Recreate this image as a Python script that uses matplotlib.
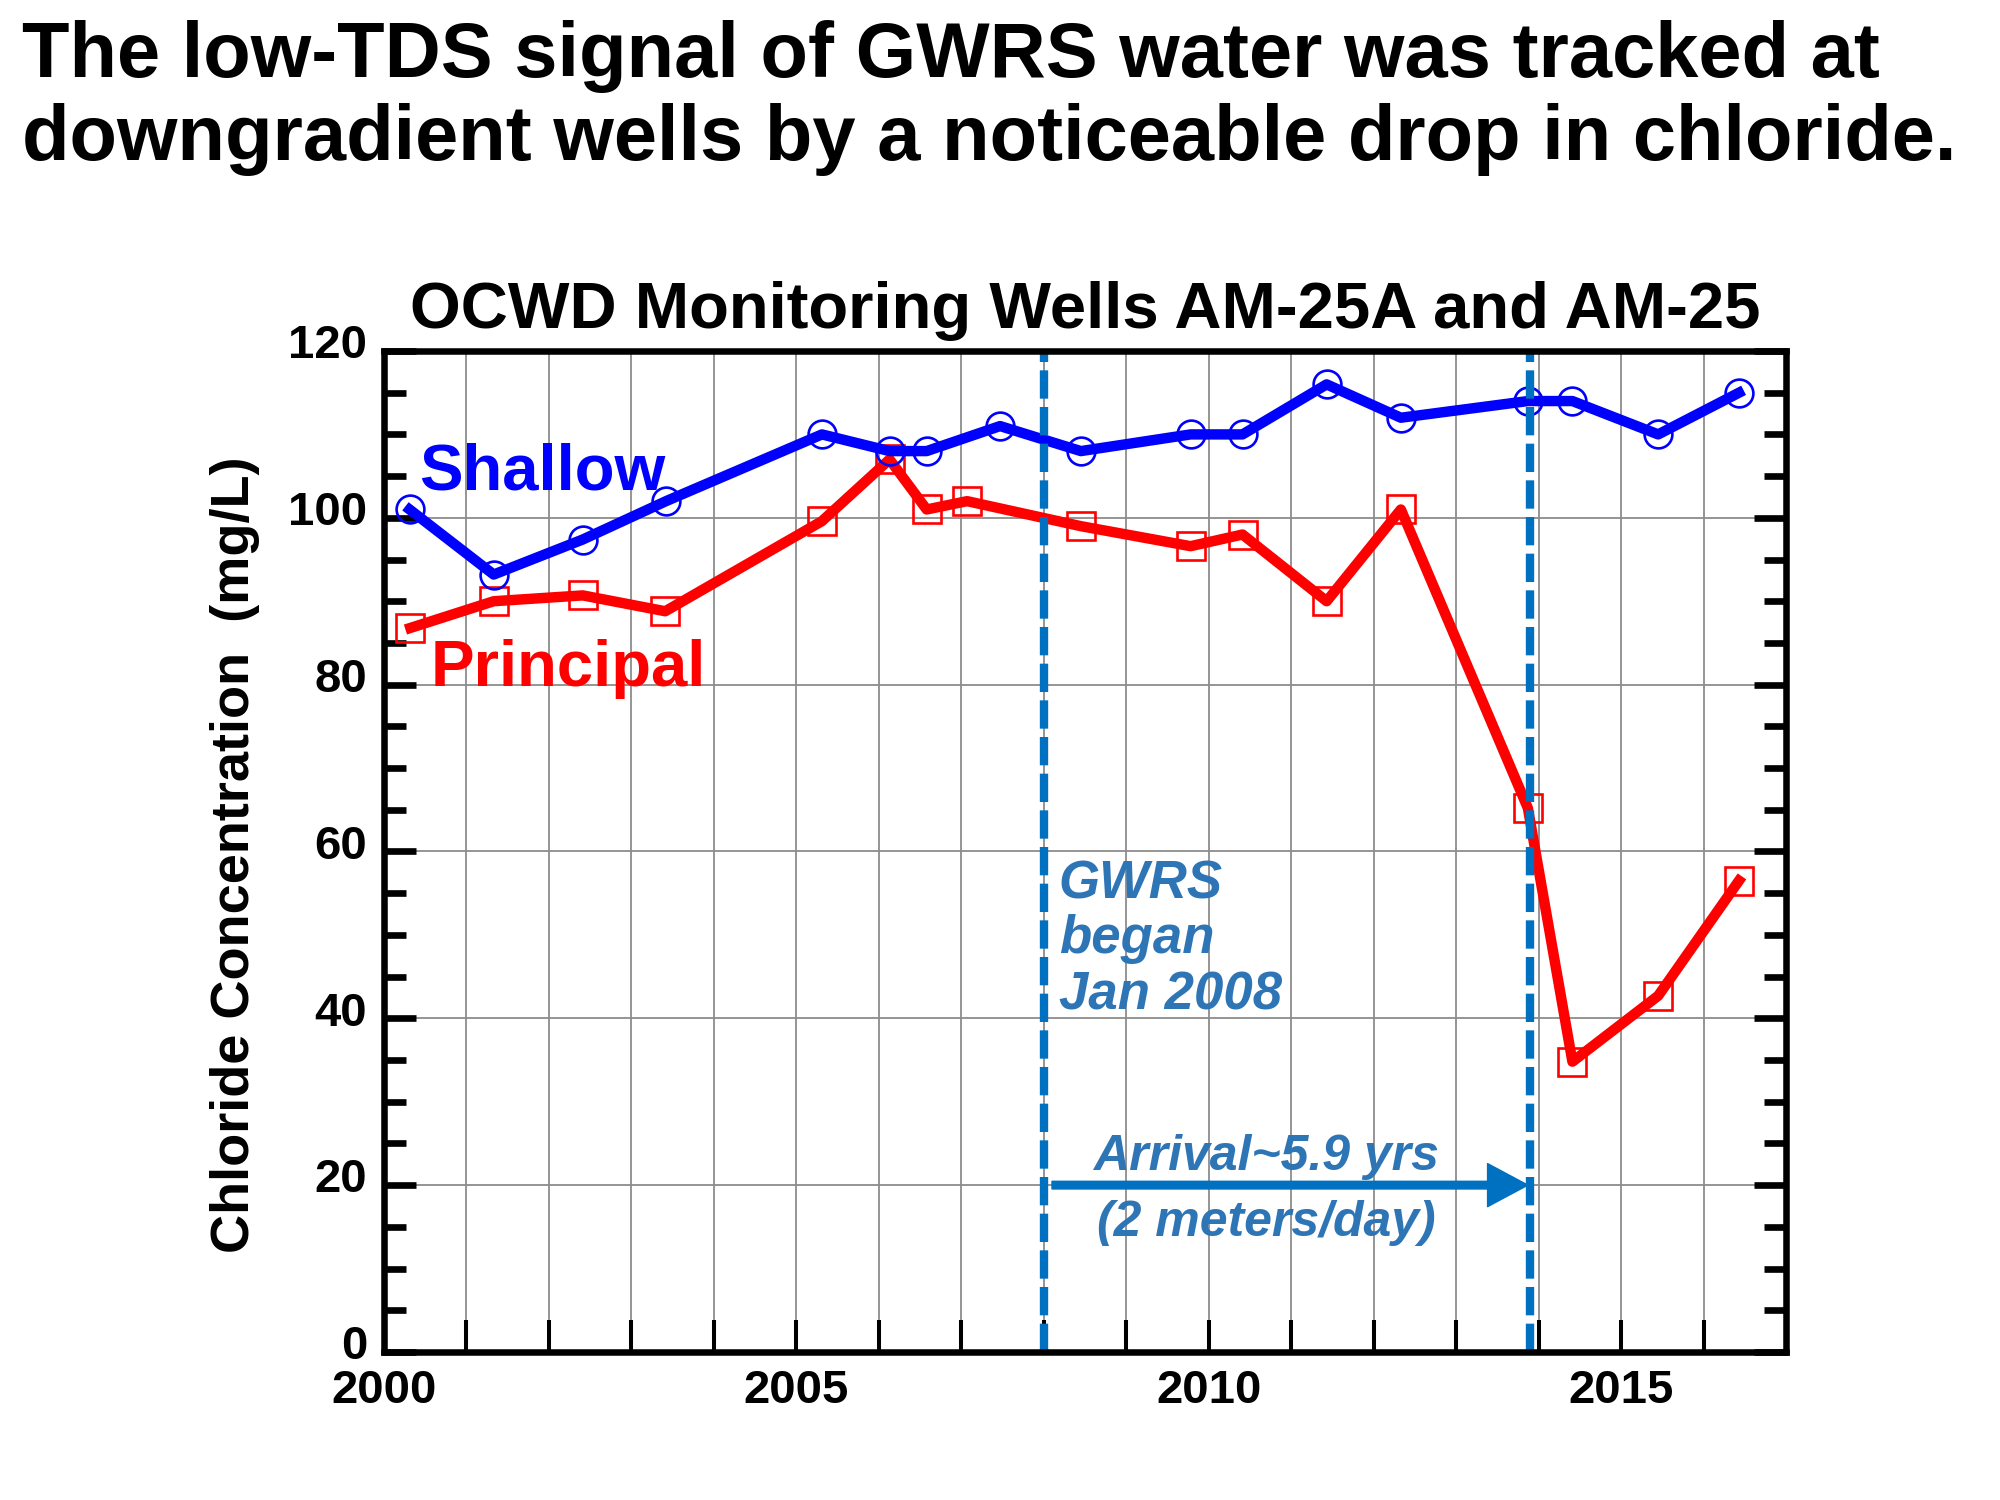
import matplotlib
matplotlib.use("Agg")
import matplotlib.pyplot as plt
from matplotlib.ticker import MultipleLocator
from matplotlib.transforms import ScaledTranslation

plt.rcParams['font.family'] = ['Liberation Sans', 'DejaVu Sans']

# ---- data ----
years_shallow = [2000.31, 2001.33, 2002.41, 2003.42, 2005.31, 2006.13, 2006.58, 2007.47,
                 2008.45, 2009.78, 2010.41, 2011.43, 2012.33, 2013.87, 2014.41, 2015.45, 2016.43]
shallow = [101.0, 93.2, 97.4, 102.0, 110.0, 108.0, 108.0, 111.0,
           108.0, 110.0, 110.0, 116.0, 112.0, 114.0, 114.0, 110.0, 115.0]

years_principal = [2000.32, 2001.33, 2002.41, 2003.41, 2005.31, 2006.13, 2006.58, 2007.07,
                   2008.45, 2009.78, 2010.41, 2011.43, 2012.33, 2013.87, 2014.41, 2015.45, 2016.43]
principal = [86.8, 90.0, 90.7, 88.8, 99.6, 107.0, 101.0, 102.0,
             99.0, 96.6, 98.0, 90.0, 101.0, 65.2, 34.8, 42.7, 56.5]

gwrs_start = 2008.0
arrival = 2013.9
arrow_level = 20

x_major_ticks = [2000, 2005, 2010, 2015]
x_tick_labels = ["2000", "2005", "2010", "2015"]
y_major_ticks = [0, 20, 40, 60, 80, 100, 120]

title_lines = ["The low-TDS signal of GWRS water was tracked at",
               "downgradient wells by a noticeable drop in chloride."]
chart_title = "OCWD Monitoring Wells AM-25A and AM-25"
y_label = "Chloride Concentration  (mg/L)"

annot_color = "#2E75B6"
line_color = "#0070C0"

# ---- figure ----
fig = plt.figure(figsize=(20, 15), dpi=100)
ax = fig.add_axes([0.192, 0.0987, 0.893 - 0.192, 0.766 - 0.0987])

ax.set_xlim(2000, 2017)
ax.set_ylim(0, 120)

ax.plot(years_principal, principal, color="#FF0000", lw=7.5, marker="s", ms=20,
        mfc="none", mec="#FF0000", mew=1.9, zorder=3, solid_joinstyle="round")
ax.plot(years_shallow, shallow, color="#0000FF", lw=7.5, marker="o", ms=20,
        mfc="none", mec="#0000FF", mew=1.9, zorder=4, solid_joinstyle="round")

for xv in (gwrs_start, arrival):
    ax.axvline(xv, color=line_color, lw=6, dashes=(3.4, 1.0), zorder=5)

# ticks
ax.xaxis.set_major_locator(MultipleLocator(5))
ax.xaxis.set_minor_locator(MultipleLocator(1))
ax.set_xticks(x_major_ticks)
ax.set_xticklabels(x_tick_labels)
ax.set_yticks(y_major_ticks)
ax.yaxis.set_minor_locator(MultipleLocator(5))

ax.tick_params(axis='x', which='both', direction='in', length=23, width=2.9,
               bottom=True, top=False, pad=12)
ax.tick_params(axis='y', which='major', direction='in', length=23, width=4.8,
               left=True, right=True, pad=12)
ax.tick_params(axis='y', which='minor', direction='in', length=16, width=4.8,
               left=True, right=True)
ax.tick_params(axis='both', which='major', labelsize=34)
for lbl in ax.get_xticklabels() + ax.get_yticklabels():
    lbl.set_fontweight('bold')
shift = ScaledTranslation(0, 7 / 72, fig.dpi_scale_trans)
for lbl in ax.get_yticklabels():
    lbl.set_transform(lbl.get_transform() + shift)

# grid
ax.grid(True, which='major', axis='y', color='#8C8C8C', lw=1.3, zorder=0)
ax.grid(True, which='both', axis='x', color='#8C8C8C', lw=1.3, zorder=0)
ax.set_axisbelow(True)

for sp in ax.spines.values():
    sp.set_linewidth(4.7)
    sp.set_zorder(6)

# titles
ax.set_title(chart_title, fontsize=47, fontweight='bold', pad=16.5)
fig.text(0.011, 0.9487, title_lines[0], fontsize=56, fontweight='bold', va='baseline', ha='left')
fig.text(0.011, 0.8933, title_lines[1], fontsize=56, fontweight='bold', va='baseline', ha='left')

ax.set_ylabel(y_label, fontsize=39, fontweight='bold', va='center')
ax.yaxis.set_label_coords((235 - 384) / 1402, 0.497)

# series labels
ax.text(2000.42, 103.4, "Shallow", color="#0000FF", fontsize=47, fontweight='bold', va='baseline')
ax.text(2000.56, 79.8, "Principal", color="#FF0000", fontsize=47, fontweight='bold', va='baseline')

# GWRS annotation
for txt, yv in (("GWRS", 54.4), ("began", 47.8), ("Jan 2008", 41.0)):
    ax.text(2008.18, yv, txt, color=annot_color, fontsize=38, fontweight='bold',
            style='italic', va='baseline', ha='left', zorder=7)

# arrival arrow
ax.annotate("", xy=(arrival - 0.03, arrow_level), xytext=(gwrs_start + 0.1, arrow_level),
            arrowprops=dict(facecolor=line_color, edgecolor=line_color, width=5.5,
                            headwidth=31, headlength=29, shrink=0),
            zorder=6)
ax.text(2010.70, 21.8, "Arrival~5.9 yrs", color=annot_color, fontsize=36, fontweight='bold',
        style='italic', va='baseline', ha='center', zorder=7)
ax.text(2010.70, 13.9, "(2 meters/day)", color=annot_color, fontsize=36, fontweight='bold',
        style='italic', va='baseline', ha='center', zorder=7)

fig.savefig("out.png", dpi=100)
